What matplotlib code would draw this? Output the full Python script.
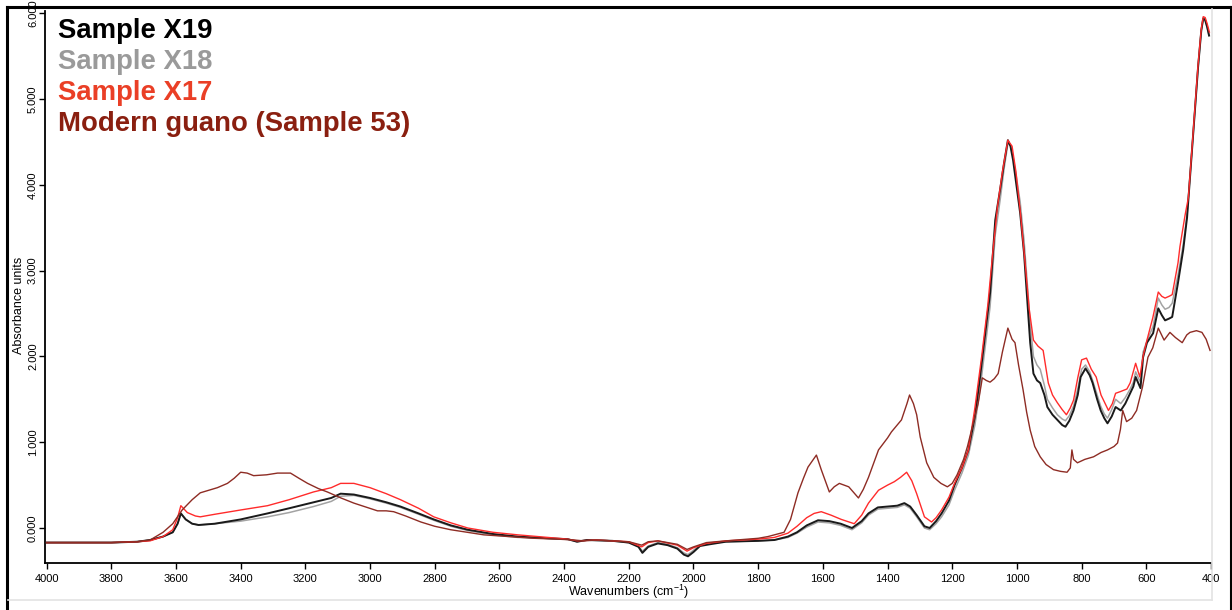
import numpy as np
import matplotlib
matplotlib.use('Agg')
import matplotlib.pyplot as plt
from matplotlib.lines import Line2D

plt.rcParams['font.family'] = ['Liberation Sans', 'DejaVu Sans']
plt.rcParams['mathtext.default'] = 'regular'

# Sample X19 (black)
wn_x19 = [4000, 3800, 3720, 3680, 3640, 3610, 3595, 3585, 3570, 3550, 3530, 3480, 3400, 3317, 3250,
          3175, 3120, 3091, 3050, 3000, 2950, 2906, 2850, 2803, 2750, 2698, 2620, 2543, 2450, 2389,
          2360, 2330, 2250, 2200, 2170, 2158, 2140, 2110, 2080, 2050, 2030, 2017, 2000, 1980, 1950,
          1900, 1800, 1750, 1708, 1680, 1650, 1615, 1580, 1545, 1510, 1480, 1459, 1430, 1400, 1370,
          1348, 1330, 1310, 1286, 1270, 1250, 1233, 1210, 1193, 1170, 1150, 1130, 1114, 1100, 1083,
          1067, 1051, 1040, 1028, 1020, 1012, 1000, 990, 978, 968, 959, 949, 938, 928, 915,
          906, 890, 875, 860, 850, 838, 825, 812, 803, 788, 775, 766, 752, 741, 730,
          720, 707, 695, 679, 665, 650, 640, 633, 626, 618, 610, 598, 579, 563, 552,
          542, 530, 520, 502, 486, 474, 455, 440, 430, 424, 418, 412, 406]
ab_x19 = [-0.17, -0.17, -0.16, -0.14, -0.10, -0.05, 0.05, 0.17, 0.10, 0.05, 0.035, 0.05, 0.10, 0.17, 0.23,
          0.30, 0.35, 0.40, 0.39, 0.35, 0.30, 0.25, 0.17, 0.10, 0.03, -0.02, -0.07, -0.10, -0.12, -0.13,
          -0.16, -0.14, -0.15, -0.17, -0.22, -0.29, -0.22, -0.18, -0.20, -0.24, -0.31, -0.33, -0.28, -0.21, -0.19,
          -0.16, -0.15, -0.14, -0.10, -0.05, 0.03, 0.09, 0.08, 0.05, 0.00, 0.08, 0.17, 0.24, 0.25, 0.26,
          0.29, 0.25, 0.15, 0.02, 0.00, 0.08, 0.17, 0.32, 0.50, 0.70, 0.91, 1.30, 1.76, 2.20, 2.74,
          3.59, 3.97, 4.25, 4.52, 4.45, 4.29, 3.95, 3.67, 3.20, 2.66, 2.16, 1.80, 1.72, 1.69, 1.55,
          1.41, 1.32, 1.26, 1.20, 1.18, 1.25, 1.37, 1.55, 1.76, 1.86, 1.78, 1.69, 1.50, 1.37, 1.28,
          1.22, 1.30, 1.41, 1.37, 1.45, 1.57, 1.65, 1.76, 1.70, 1.63, 1.99, 2.16, 2.27, 2.56, 2.48,
          2.42, 2.44, 2.46, 2.86, 3.24, 3.62, 4.60, 5.37, 5.80, 5.94, 5.92, 5.84, 5.74]

# Sample X18 (grey)
wn_x18 = [4000, 3800, 3720, 3680, 3640, 3610, 3595, 3585, 3570, 3550, 3530, 3480, 3400, 3317, 3250,
          3175, 3120, 3091, 3050, 3000, 2950, 2906, 2850, 2803, 2750, 2698, 2620, 2543, 2450, 2389,
          2360, 2330, 2250, 2200, 2170, 2158, 2140, 2110, 2080, 2050, 2030, 2017, 2000, 1980, 1950,
          1900, 1800, 1750, 1708, 1680, 1650, 1615, 1580, 1545, 1510, 1480, 1459, 1430, 1400, 1370,
          1348, 1330, 1310, 1286, 1270, 1250, 1233, 1210, 1193, 1170, 1150, 1130, 1114, 1100, 1083,
          1067, 1051, 1040, 1028, 1020, 1012, 1000, 990, 978, 968, 959, 949, 938, 928, 915,
          906, 890, 875, 860, 850, 838, 825, 812, 800, 788, 775, 766, 752, 741, 730,
          720, 707, 695, 679, 665, 650, 640, 633, 626, 618, 610, 598, 579, 563, 552,
          542, 530, 520, 502, 486, 474, 455, 440, 430, 424, 418, 412, 406]
ab_x18 = [-0.17, -0.17, -0.16, -0.14, -0.10, -0.05, 0.05, 0.17, 0.10, 0.05, 0.035, 0.05, 0.08, 0.13, 0.18,
          0.25, 0.31, 0.37, 0.38, 0.34, 0.29, 0.24, 0.16, 0.09, 0.02, -0.03, -0.08, -0.11, -0.12, -0.13,
          -0.16, -0.14, -0.15, -0.17, -0.21, -0.27, -0.21, -0.17, -0.19, -0.23, -0.29, -0.31, -0.26, -0.20, -0.18,
          -0.16, -0.15, -0.14, -0.11, -0.06, 0.01, 0.07, 0.06, 0.03, -0.02, 0.06, 0.15, 0.22, 0.23, 0.24,
          0.27, 0.23, 0.13, 0.00, -0.02, 0.05, 0.13, 0.27, 0.44, 0.64, 0.85, 1.20, 1.62, 2.05, 2.58,
          3.42, 3.85, 4.18, 4.48, 4.46, 4.33, 4.05, 3.80, 3.35, 2.85, 2.38, 2.00, 1.90, 1.85, 1.66,
          1.50, 1.40, 1.32, 1.27, 1.25, 1.31, 1.42, 1.62, 1.85, 1.90, 1.82, 1.72, 1.55, 1.42, 1.33,
          1.28, 1.38, 1.50, 1.45, 1.52, 1.62, 1.70, 1.82, 1.76, 1.70, 2.05, 2.18, 2.35, 2.68, 2.60,
          2.55, 2.57, 2.62, 2.95, 3.30, 3.65, 4.60, 5.37, 5.80, 5.94, 5.92, 5.84, 5.74]

# Sample X17 (red)
wn_x17 = [4000, 3800, 3720, 3680, 3640, 3610, 3595, 3585, 3565, 3540, 3525, 3480, 3400, 3317, 3250,
          3175, 3120, 3091, 3050, 3000, 2950, 2906, 2850, 2803, 2750, 2698, 2620, 2543, 2450, 2389,
          2360, 2300, 2200, 2160, 2140, 2110, 2050, 2020, 2000, 1960, 1900, 1800, 1750, 1708, 1680,
          1650, 1627, 1605, 1575, 1543, 1503, 1480, 1459, 1428, 1400, 1379, 1360, 1341, 1325, 1310,
          1286, 1264, 1250, 1233, 1210, 1193, 1170, 1150, 1130, 1109, 1090, 1075, 1060, 1045, 1028,
          1015, 1003, 990, 975, 962, 949, 935, 919, 903, 890, 875, 860, 847, 835, 825,
          812, 800, 785, 770, 755, 740, 717, 705, 695, 680, 660, 650, 633, 625, 620,
          610, 598, 580, 563, 552, 542, 530, 520, 502, 496, 480, 470, 455, 440, 430,
          424, 418, 412, 405]
ab_x17 = [-0.17, -0.17, -0.16, -0.15, -0.10, -0.02, 0.12, 0.26, 0.18, 0.14, 0.13, 0.16, 0.21, 0.26, 0.33,
          0.42, 0.47, 0.52, 0.52, 0.47, 0.40, 0.33, 0.23, 0.13, 0.06, 0.00, -0.05, -0.08, -0.11, -0.13,
          -0.15, -0.14, -0.16, -0.22, -0.17, -0.15, -0.20, -0.27, -0.23, -0.18, -0.15, -0.13, -0.11, -0.06, 0.02,
          0.12, 0.17, 0.19, 0.15, 0.10, 0.05, 0.15, 0.29, 0.44, 0.50, 0.54, 0.59, 0.65, 0.55, 0.40,
          0.13, 0.07, 0.12, 0.21, 0.36, 0.52, 0.70, 0.91, 1.40, 2.00, 2.60, 3.20, 3.75, 4.15, 4.52,
          4.45, 4.15, 3.70, 3.10, 2.55, 2.19, 2.12, 2.07, 1.69, 1.55, 1.46, 1.38, 1.32, 1.40, 1.49,
          1.75, 1.96, 1.98, 1.85, 1.76, 1.55, 1.37, 1.45, 1.57, 1.59, 1.62, 1.69, 1.92, 1.82, 1.76,
          2.00, 2.19, 2.45, 2.75, 2.70, 2.68, 2.70, 2.72, 3.09, 3.28, 3.65, 3.85, 4.62, 5.40, 5.82,
          5.96, 5.95, 5.88, 5.78]

# Modern guano (Sample 53) (dark red)
wn_guano = [4000, 3800, 3720, 3680, 3640, 3610, 3581, 3550, 3525, 3472, 3441, 3420, 3400, 3380, 3360,
            3320, 3286, 3246, 3220, 3193, 3160, 3132, 3090, 3050, 3010, 2977, 2950, 2927, 2890, 2843,
            2800, 2751, 2700, 2648, 2570, 2493, 2420, 2369, 2340, 2300, 2200, 2160, 2140, 2110, 2050,
            2020, 2000, 1960, 1900, 1800, 1770, 1720, 1700, 1677, 1660, 1646, 1620, 1605, 1580, 1565,
            1549, 1520, 1490, 1475, 1459, 1428, 1400, 1388, 1357, 1340, 1332, 1320, 1310, 1299, 1279,
            1257, 1235, 1215, 1200, 1185, 1165, 1153, 1130, 1120, 1107, 1095, 1083, 1070, 1058, 1045,
            1028, 1015, 1006, 995, 981, 970, 959, 945, 928, 910, 887, 865, 845, 835, 830,
            825, 813, 790, 763, 740, 720, 700, 689, 680, 673, 661, 645, 630, 612, 595,
            580, 563, 545, 527, 510, 489, 475, 465, 445, 428, 415, 403]
ab_guano = [-0.17, -0.17, -0.16, -0.14, -0.05, 0.05, 0.21, 0.33, 0.41, 0.47, 0.52, 0.58, 0.65, 0.64, 0.61,
            0.62, 0.64, 0.64, 0.58, 0.52, 0.46, 0.42, 0.35, 0.29, 0.24, 0.20, 0.20, 0.19, 0.14, 0.07,
            0.02, -0.02, -0.05, -0.08, -0.10, -0.12, -0.13, -0.14, -0.15, -0.14, -0.16, -0.20, -0.16, -0.15, -0.19,
            -0.25, -0.22, -0.17, -0.15, -0.12, -0.10, -0.05, 0.10, 0.41, 0.58, 0.71, 0.85, 0.68, 0.42, 0.48,
            0.52, 0.48, 0.35, 0.45, 0.59, 0.91, 1.05, 1.12, 1.26, 1.45, 1.55, 1.45, 1.32, 1.06, 0.76,
            0.59, 0.52, 0.48, 0.52, 0.62, 0.80, 0.95, 1.30, 1.45, 1.75, 1.72, 1.70, 1.74, 1.80, 2.05,
            2.33, 2.20, 2.16, 1.90, 1.61, 1.35, 1.14, 0.95, 0.83, 0.74, 0.68, 0.66, 0.65, 0.70, 0.91,
            0.80, 0.76, 0.80, 0.83, 0.88, 0.91, 0.95, 0.99, 1.15, 1.37, 1.24, 1.28, 1.37, 1.64, 1.99,
            2.10, 2.33, 2.19, 2.28, 2.22, 2.16, 2.25, 2.28, 2.30, 2.28, 2.20, 2.07]

labels = ['Sample X19', 'Sample X18', 'Sample X17', 'Modern guano (Sample 53)']
line_colors = ['#1a1a1a', '#a3a3a3', '#ff2b2b', '#8e2c24']
text_colors = ['#000000', '#9a9a9a', '#ea3f26', '#8a1f10']

x_ticks = np.arange(4000, 399, -200)
y_ticks = [0, 1, 2, 3, 4, 5, 6]

W, H = 1232, 610
fig = plt.figure(figsize=(W / 100, H / 100), dpi=100)
ax = fig.add_axes([45 / W, 1 - 563 / H, (1211 - 45) / W, (563 - 11) / H])

ax.plot(wn_x18, ab_x18, color=line_colors[1], lw=1.1, zorder=2)
ax.plot(wn_x19, ab_x19, color=line_colors[0], lw=1.4, zorder=3)
ax.plot(wn_x17, ab_x17, color=line_colors[2], lw=1.0, zorder=4)
ax.plot(wn_guano, ab_guano, color=line_colors[3], lw=1.0, zorder=5)

ax.set_xlim(4005, 400)
ax.set_ylim(-0.408, 6.026)
ax.set_xticks(x_ticks)
ax.set_xticklabels([str(t) for t in x_ticks])
ax.set_yticks(y_ticks)
ax.set_yticklabels(['%.3f' % t for t in y_ticks], rotation=90, va='center')
ax.tick_params(axis='both', labelsize=8, length=4, width=1, direction='out', colors='black')
ax.tick_params(axis='y', pad=1)
ax.tick_params(axis='x', pad=4)

for side in ['top', 'right']:
    ax.spines[side].set_visible(False)
for side in ['left', 'bottom']:
    ax.spines[side].set_linewidth(1.3)

ax.set_xlabel(r'Wavenumbers (cm$^{-1}$)', fontsize=9, labelpad=-1)
ax.set_ylabel('Absorbance units', fontsize=9)
ax.yaxis.set_label_coords((25 - 45) / 1166, (563 - 305) / 552)

# legend as coloured text
baselines = [38, 69, 100, 131]
for lab, col, yb in zip(labels, text_colors, baselines):
    fig.text(58 / W, 1 - yb / H, lab, color=col, fontsize=19.8, fontweight='bold',
             va='baseline', ha='left')

# outer frame lines
fig.add_artist(Line2D([7 / W, 7 / W], [0, 1 - 7 / H], color='black', lw=2.2))
fig.add_artist(Line2D([7 / W, 1231 / W], [1 - 7 / H, 1 - 7 / H], color='black', lw=2.2))
fig.add_artist(Line2D([1230.5 / W, 1230.5 / W], [0, 1 - 7 / H], color='black', lw=1.5))
fig.add_artist(Line2D([1212 / W, 1212 / W], [1 - 600 / H, 1 - 9 / H], color='#e3e3e3', lw=1.2))
fig.add_artist(Line2D([8 / W, 1212 / W], [1 - 600 / H, 1 - 600 / H], color='#e3e3e3', lw=1.2))

fig.savefig('out.png', dpi=100)
